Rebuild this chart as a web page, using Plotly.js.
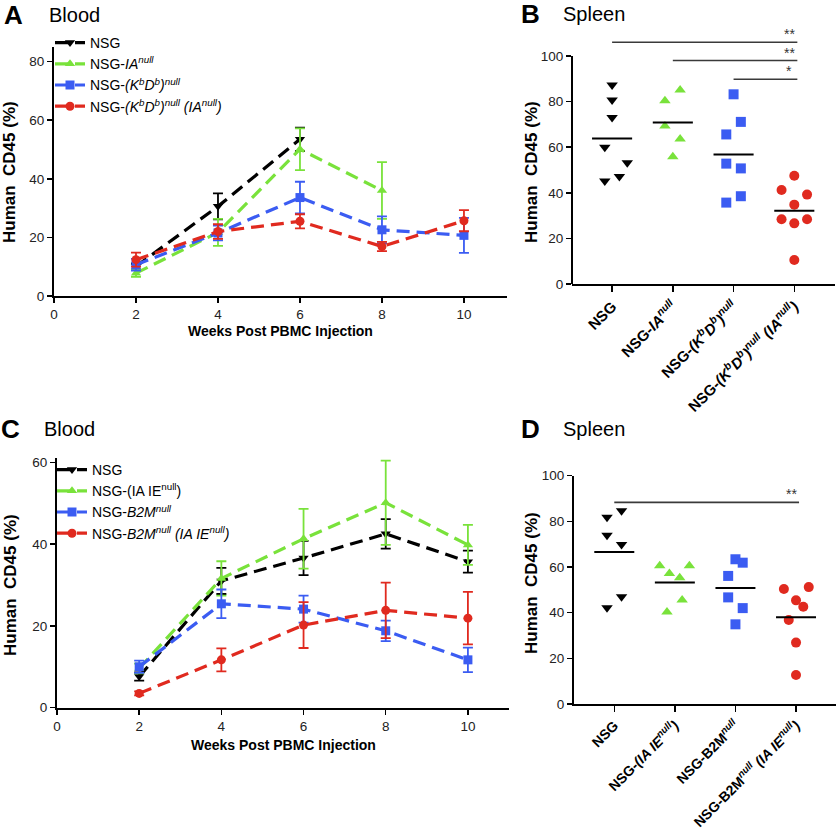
<!DOCTYPE html>
<html>
<head>
<meta charset="utf-8">
<script src="https://cdn.plot.ly/plotly-3.0.1.min.js"></script>
<style>html,body{margin:0;padding:0;background:#fff;}#plot{width:839px;height:832px;}</style>
</head>
<body>
<div id="plot"></div>
<script>
// ---------- DATA ----------
// Panel A: Blood (weeks post PBMC injection)
const weeksA_NSG = [2, 4, 6];
const weeksA = [2, 4, 6, 8, 10];
const weeksA_IA = [2, 4, 6, 8];
const a_NSG = [10.1, 30.6, 53.5];
const a_NSG_err = [1.0, 4.4, 4.0];
const a_IA = [7.8, 21.7, 50.1, 36.0];
const a_IA_err = [1.3, 4.6, 7.1, 9.7];
const a_KbDb = [10.7, 21.5, 33.6, 22.6, 20.7];
const a_KbDb_err = [2.0, 2.5, 5.4, 4.6, 6.0];
const a_KbDbIA = [12.4, 22.0, 25.5, 16.9, 25.7];
const a_KbDbIA_err = [2.4, 2.5, 2.4, 1.6, 3.6];

// Panel B: Spleen
const b_NSG = [87.3, 80.7, 73.0, 60.0, 53.2, 47.2, 45.2];
const b_NSG_jit = [0, 0, 0, -0.12, 0.25, 0.12, -0.12];
const b_IA = [85.1, 80.4, 69.3, 63.6, 55.8];
const b_IA_jit = [0.12, -0.13, -0.13, 0.12, 0];
const b_KbDb = [83.2, 71.1, 65.6, 52.8, 50.7, 38.5, 35.7];
const b_KbDb_jit = [0, 0.12, -0.12, -0.12, 0.12, 0.12, -0.12];
const b_KbDbIA = [47.5, 41.2, 39.2, 34.8, 28.4, 26.6, 28.4, 10.5];
const b_KbDbIA_jit = [0, -0.21, 0.21, 0, -0.21, 0, 0.21, 0];
const sigB = [{from: 0, to: 3, y: 106, label: '**'}, {from: 1, to: 3, y: 98, label: '**'}, {from: 2, to: 3, y: 89.8, label: '*'}];

// Panel C: Blood
const weeksC = [2, 4, 6, 8, 10];
const c_NSG = [7.6, 31.0, 36.6, 42.5, 35.7];
const c_NSG_err = [1.0, 3.2, 4.2, 3.6, 2.7];
const c_IAIE = [9.6, 31.6, 41.3, 50.1, 39.8];
const c_IAIE_err = [1.2, 4.2, 7.3, 10.3, 4.9];
const c_B2M = [10.0, 25.4, 24.1, 18.8, 11.7];
const c_B2M_err = [1.5, 3.5, 3.3, 2.5, 3.0];
const c_B2MIAIE = [3.5, 11.7, 20.2, 23.8, 21.9];
const c_B2MIAIE_err = [0.5, 2.8, 5.6, 6.8, 6.4];

// Panel D: Spleen
const d_NSG = [81.8, 84.7, 73.9, 69.9, 47.0, 42.2];
const d_NSG_jit = [-0.12, 0.12, -0.12, 0.12, 0.12, -0.12];
const d_IAIE = [60.6, 60.6, 57.2, 55.3, 45.5, 40.3];
const d_IAIE_jit = [-0.25, 0.24, -0.09, 0.08, 0.12, -0.13];
const d_B2M = [63.4, 61.9, 56.1, 46.7, 42.0, 34.9];
const d_B2M_jit = [0, 0.12, -0.12, -0.12, 0.12, 0];
const d_B2MIAIE = [50.4, 51.2, 45.4, 42.6, 36.8, 26.9, 12.7];
const d_B2MIAIE_jit = [-0.2, 0.21, 0, 0.12, -0.12, 0, 0];
const sigD = [{from: 0, to: 3, y: 88.3, label: '**'}];

// Labels
const namesA = ['NSG', 'NSG-<i>IA<sup>null</sup></i>', 'NSG-<i>(K<sup>b</sup>D<sup>b</sup>)<sup>null</sup></i>', 'NSG-<i>(K<sup>b</sup>D<sup>b</sup>)<sup>null</sup> (IA<sup>null</sup>)</i>'];
const namesC = ['NSG', 'NSG-(IA IE<sup>null</sup>)', 'NSG-<i>B2M<sup>null</sup></i>', 'NSG-<i>B2M<sup>null</sup> (IA IE<sup>null</sup>)</i>'];
const catsB = ['NSG', 'NSG-<i>IA<sup>null</sup></i>', 'NSG-<i>(K<sup>b</sup>D<sup>b</sup>)<sup>null</sup></i>', 'NSG-<i>(K<sup>b</sup>D<sup>b</sup>)<sup>null</sup> (IA<sup>null</sup>)</i>'];
const catsD = ['NSG', 'NSG-<i>(IA IE<sup>null</sup>)</i>', 'NSG-B2M<i><sup>null</sup></i>', 'NSG-B2M<i><sup>null</sup> (IA IE<sup>null</sup>)</i>'];
const weekTicks = [0, 2, 4, 6, 8, 10];

// ---------- STYLE ----------
const COL = {black: '#000000', green: '#79E23B', blue: '#3B5CF2', red: '#E02A1F'};
const SYM = ['triangle-down', 'triangle-up', 'square', 'circle'];
const colors = [COL.black, COL.green, COL.blue, COL.red];
const FONT = 'Liberation Sans, Arial, sans-serif';
const W = 839, H = 832;
const xd = (a, b) => [a / W, b / W];
const yd = (top, bot) => [1 - bot / H, 1 - top / H];

const traces = [];
function lineTrace(x, y, err, i, name, xa, ya, leg) {
  traces.push({
    type: 'scatter', mode: 'lines+markers', x: x, y: y, name: name,
    xaxis: xa, yaxis: ya, legend: leg, cliponaxis: false,
    line: {color: colors[i], width: 3.2, dash: '13px,7px'},
    marker: {symbol: SYM[i], size: 9, color: colors[i]},
    error_y: {type: 'data', array: err, visible: true, color: colors[i], thickness: 1.8, width: 5}
  });
}
lineTrace(weeksA_NSG, a_NSG, a_NSG_err, 0, namesA[0], 'x', 'y', 'legend');
lineTrace(weeksA_IA, a_IA, a_IA_err, 1, namesA[1], 'x', 'y', 'legend');
lineTrace(weeksA, a_KbDb, a_KbDb_err, 2, namesA[2], 'x', 'y', 'legend');
lineTrace(weeksA, a_KbDbIA, a_KbDbIA_err, 3, namesA[3], 'x', 'y', 'legend');

lineTrace(weeksC, c_NSG, c_NSG_err, 0, namesC[0], 'x3', 'y3', 'legend2');
lineTrace(weeksC, c_IAIE, c_IAIE_err, 1, namesC[1], 'x3', 'y3', 'legend2');
lineTrace(weeksC, c_B2M, c_B2M_err, 2, namesC[2], 'x3', 'y3', 'legend2');
lineTrace(weeksC, c_B2MIAIE, c_B2MIAIE_err, 3, namesC[3], 'x3', 'y3', 'legend2');

const mean = arr => arr.reduce((s, v) => s + v, 0) / arr.length;
function stripTrace(vals, jit, i, xa, ya) {
  traces.push({
    type: 'scatter', mode: 'markers', showlegend: false, xaxis: xa, yaxis: ya, cliponaxis: false,
    x: vals.map((v, k) => i + jit[k]), y: vals,
    marker: {symbol: SYM[i], size: 10, color: colors[i]}
  });
  const m = mean(vals);
  traces.push({
    type: 'scatter', mode: 'lines', showlegend: false, xaxis: xa, yaxis: ya, hoverinfo: 'skip',
    x: [i - 0.33, i + 0.33], y: [m, m], line: {color: '#000', width: 2}
  });
}
[b_NSG, b_IA, b_KbDb, b_KbDbIA].forEach((v, i) => stripTrace(v, [b_NSG_jit, b_IA_jit, b_KbDb_jit, b_KbDbIA_jit][i], i, 'x2', 'y2'));
[d_NSG, d_IAIE, d_B2M, d_B2MIAIE].forEach((v, i) => stripTrace(v, [d_NSG_jit, d_IAIE_jit, d_B2M_jit, d_B2MIAIE_jit][i], i, 'x4', 'y4'));

const shapes = [];
const annotations = [];
function sig(list, xa, ya) {
  list.forEach(s => {
    shapes.push({type: 'line', xref: xa, yref: ya, x0: s.from, x1: s.to + 0.05, y0: s.y, y1: s.y, line: {color: '#3a3a3a', width: 1.6}});
    annotations.push({xref: xa, yref: ya, x: s.to - 0.08, y: s.y, yanchor: 'bottom', xanchor: 'center', showarrow: false, text: s.label, font: {family: FONT, size: 14, color: '#333'}, yshift: -2});
  });
}
sig(sigB, 'x2', 'y2');
sig(sigD, 'x4', 'y4');
// y axis line for panel B (stops at 100)
shapes.push({type: 'line', xref: 'x2 domain', yref: 'y2', x0: 0, x1: 0, y0: 0, y1: 100, line: {color: '#000', width: 2}});

function txt(px, py, text, size, bold, opts) {
  annotations.push(Object.assign({xref: 'paper', yref: 'paper', x: px / W, y: 1 - py / H, text: text, showarrow: false,
    xanchor: 'left', yanchor: 'middle', font: {family: FONT, size: size, color: '#000', weight: bold ? 'bold' : 'normal'}}, opts || {}));
}
txt(2, 15, 'A', 26, true);
txt(47, 15, 'Blood', 20, false);
txt(519, 14, 'B', 26, true);
txt(561, 14, 'Spleen', 20, false);
txt(-1, 429, 'C', 26, true);
txt(42, 429, 'Blood', 20, false);
txt(519, 429, 'D', 26, true);
txt(561, 429, 'Spleen', 20, false);
const yt = 'Human  CD45 (%)';
txt(10, 172, yt, 17, true, {textangle: -90, xanchor: 'center'});
txt(532, 172, yt, 17, true, {textangle: -90, xanchor: 'center'});
txt(10, 585, yt, 17, true, {textangle: -90, xanchor: 'center'});
txt(531, 583, yt, 17, true, {textangle: -90, xanchor: 'center'});
txt(280, 331, 'Weeks Post PBMC Injection', 14, true, {xanchor: 'center'});
txt(283, 745, 'Weeks Post PBMC Injection', 14, true, {xanchor: 'center'});

const axBase = {showgrid: false, zeroline: false, showline: true, linecolor: '#000', linewidth: 2,
  ticks: 'outside', ticklen: 5, tickwidth: 1.5, tickcolor: '#000',
  tickfont: {family: FONT, size: 13.5, color: '#222'}};
const catAx = (dom, range, anchor, text, fs) => Object.assign({}, axBase, {domain: dom, range: range, anchor: anchor,
  tickmode: 'array', tickvals: [0, 1, 2, 3], ticktext: text, tickangle: -45, ticklen: 6,
  tickfont: {family: FONT, size: fs, color: '#000', weight: 'bold'}});

const layout = {
  width: W, height: H, margin: {l: 0, r: 0, t: 0, b: 0}, paper_bgcolor: '#fff', plot_bgcolor: 'rgba(0,0,0,0)',
  font: {family: FONT},
  xaxis: Object.assign({}, axBase, {domain: xd(54, 507), range: [0, 11.05], anchor: 'y', tickvals: weekTicks}),
  yaxis: Object.assign({}, axBase, {domain: yd(47, 296), range: [0, 85], anchor: 'x', tickvals: [0, 20, 40, 60, 80]}),
  xaxis2: catAx(xd(572, 835), [-0.66, 3.67], 'y2', catsB, 15),
  yaxis2: Object.assign({}, axBase, {domain: yd(33.2, 284), range: [0, 110], anchor: 'x2', showline: false, tickvals: [0, 20, 40, 60, 80, 100]}),
  xaxis3: Object.assign({}, axBase, {domain: xd(57, 509), range: [0, 11.0], anchor: 'y3', tickvals: weekTicks}),
  yaxis3: Object.assign({}, axBase, {domain: yd(458.2, 707.7), range: [0, 61], anchor: 'x3', tickvals: [0, 20, 40, 60]}),
  xaxis4: catAx(xd(574, 836), [-0.665, 3.66], 'y4', catsD, 14),
  yaxis4: Object.assign({}, axBase, {domain: yd(475.7, 704), range: [0, 100], anchor: 'x4', tickvals: [0, 20, 40, 60, 80, 100]}),
  legend: {x: 50 / W, y: 1 - 27 / H, xanchor: 'left', yanchor: 'top', bgcolor: 'rgba(0,0,0,0)', borderwidth: 0,
    font: {family: FONT, size: 14, color: '#000'}, tracegroupgap: 0},
  legend2: {x: 52 / W, y: 1 - 454 / H, xanchor: 'left', yanchor: 'top', bgcolor: 'rgba(0,0,0,0)', borderwidth: 0,
    font: {family: FONT, size: 14, color: '#000'}, tracegroupgap: 0},
  shapes: shapes, annotations: annotations, showlegend: true
};
Plotly.newPlot('plot', traces, layout, {displayModeBar: false, staticPlot: true});
</script>
</body>
</html>
